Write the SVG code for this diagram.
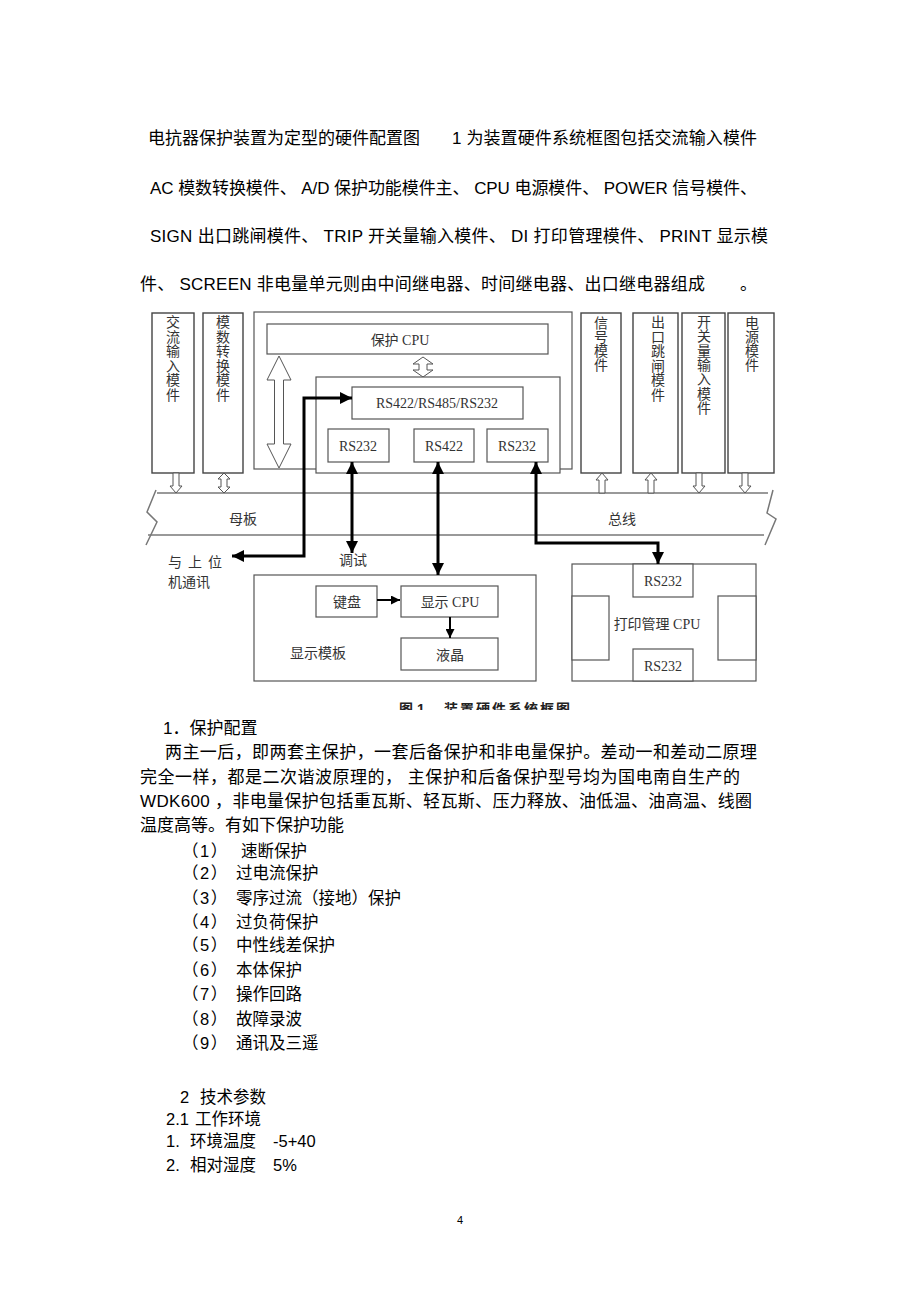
<svg xmlns="http://www.w3.org/2000/svg" xmlns:xlink="http://www.w3.org/1999/xlink" width="920" height="1303" viewBox="0 0 920 1303">
<style>
.box{fill:#fff;stroke:#555;stroke-width:1.2}
.mod{fill:#fff;stroke:#444;stroke-width:1.4}
.t{font-family:"Liberation Serif","Noto Sans CJK SC",serif;font-size:14px;fill:#333}
.tc{text-anchor:middle}
.p{font-family:"Liberation Sans","Noto Sans CJK SC",sans-serif;font-size:17px;fill:#000}
.li{font-size:16.5px}
.num{letter-spacing:1.5px}
.thick{stroke:#000;stroke-width:3;fill:none;marker-start:url(#ah);marker-end:url(#ah)}
.thin{stroke:#000;stroke-width:2;fill:none;marker-end:url(#ah2)}
.hollow{fill:#fff;stroke:#555;stroke-width:1}
.bus{stroke:#777;stroke-width:1.5;fill:none}
</style>
<defs>
<marker id="ah" viewBox="0 0 12 12" refX="12" refY="6" markerWidth="12" markerHeight="12" markerUnits="userSpaceOnUse" orient="auto-start-reverse"><path d="M0,0 L12,6 L0,12 z" fill="#000"/></marker>
<marker id="ah2" viewBox="0 0 10 10" refX="10" refY="5" markerWidth="9" markerHeight="9" markerUnits="userSpaceOnUse" orient="auto"><path d="M0,0 L10,5 L0,10 z" fill="#000"/></marker>
<path id="dn" d="M-3,0 H3 V13 H6 L0,20 L-6,13 H-3 Z"/>
<path id="up" d="M0,0 L6,7 H3 V20 H-3 V7 H-6 Z"/>
<path id="ud" d="M0,0 L6,6 H3 V14 H6 L0,20 L-6,14 H-3 V6 H-6 Z"/>
<clipPath id="capclip"><rect x="380" y="690" width="220" height="20"/></clipPath>
</defs>

<g id="intro" class="p">
<text x="148" y="143.5">电抗器保护装置为定型的硬件配置图</text>
<text x="452" y="143.5" textLength="305" lengthAdjust="spacing">1 为装置硬件系统框图包括交流输入模件</text>
<text x="150" y="193.5" textLength="607" lengthAdjust="spacing">AC 模数转换模件、 A/D 保护功能模件主、 CPU 电源模件、 POWER 信号模件、</text>
<text x="150" y="241.5" textLength="618" lengthAdjust="spacing">SIGN 出口跳闸模件、 TRIP 开关量输入模件、 DI 打印管理模件、 PRINT 显示模</text>
<text x="140" y="289.5" textLength="565" lengthAdjust="spacing">件、 SCREEN 非电量单元则由中间继电器、时间继电器、出口继电器组成</text>
<text x="740" y="289.5">。</text>
</g>

<g id="bus">
<line class="bus" x1="157" y1="493" x2="768" y2="493"/>
<line class="bus" x1="148" y1="535" x2="764" y2="535"/>
<polyline class="bus" points="156,490 147,512 157,522 146,545"/>
<polyline class="bus" points="773,490 767,513 776,519 765,545"/>
<text class="t tc" x="243" y="524">母板</text>
<text class="t tc" x="622" y="524">总线</text>
</g>

<g id="mod-ac">
<rect class="mod" x="152" y="313" width="42" height="160"/>
<text class="t tc"><tspan x="173" y="327">交</tspan><tspan x="173" y="341.6">流</tspan><tspan x="173" y="356.2">输</tspan><tspan x="173" y="370.8">入</tspan><tspan x="173" y="385.4">模</tspan><tspan x="173" y="400">件</tspan></text>
<use xlink:href="#dn" href="#dn" x="176" y="473" class="hollow"/>
</g>
<g id="mod-ad">
<rect class="mod" x="203" y="313" width="40" height="160"/>
<text class="t tc"><tspan x="223" y="327">模</tspan><tspan x="223" y="341.6">数</tspan><tspan x="223" y="356.2">转</tspan><tspan x="223" y="370.8">换</tspan><tspan x="223" y="385.4">模</tspan><tspan x="223" y="400">件</tspan></text>
<use xlink:href="#ud" href="#ud" x="224" y="473" class="hollow"/>
</g>

<g id="cpu-module">
<rect class="box" x="254" y="312" width="318" height="157"/>
<rect class="box" x="267" y="324" width="281" height="30"/>
<text class="t tc" x="400" y="345">保护 CPU</text>
<path class="hollow" d="M279,356 L291,380 H283.5 V444 H291 L279,468 L267,444 H274.5 V380 H267 Z"/>
<path class="hollow" d="M423,357 L433,364 H427 V370 H433 L423,377 L413,370 H419 V364 H413 Z"/>
<rect class="box" x="316" y="377" width="244" height="96"/>
<rect class="box" x="352" y="387" width="171" height="32"/>
<text class="t tc" x="437" y="408">RS422/RS485/RS232</text>
<rect class="box" x="328" y="429" width="61" height="33"/>
<text class="t tc" x="358" y="451">RS232</text>
<rect class="box" x="414" y="429" width="60" height="33"/>
<text class="t tc" x="444" y="451">RS422</text>
<rect class="box" x="487" y="429" width="61" height="33"/>
<text class="t tc" x="517" y="451">RS232</text>
</g>

<g id="mod-sign">
<rect class="mod" x="581" y="313" width="40" height="160"/>
<text class="t tc"><tspan x="601" y="328">信</tspan><tspan x="601" y="342">号</tspan><tspan x="601" y="356">模</tspan><tspan x="601" y="370">件</tspan></text>
<use xlink:href="#up" href="#up" x="602" y="473" class="hollow"/>
</g>
<g id="mod-trip">
<rect class="mod" x="633" y="313" width="45" height="160"/>
<text class="t tc"><tspan x="658" y="327">出</tspan><tspan x="658" y="341.6">口</tspan><tspan x="658" y="356.2">跳</tspan><tspan x="658" y="370.8">闸</tspan><tspan x="658" y="385.4">模</tspan><tspan x="658" y="400">件</tspan></text>
<use xlink:href="#up" href="#up" x="651" y="473" class="hollow"/>
</g>
<g id="mod-di">
<rect class="mod" x="682" y="313" width="43" height="160"/>
<text class="t tc"><tspan x="704" y="327">开</tspan><tspan x="704" y="341.3">关</tspan><tspan x="704" y="355.6">量</tspan><tspan x="704" y="369.9">输</tspan><tspan x="704" y="384.2">入</tspan><tspan x="704" y="398.5">模</tspan><tspan x="704" y="412.8">件</tspan></text>
<use xlink:href="#dn" href="#dn" x="699" y="473" class="hollow"/>
</g>
<g id="mod-power">
<rect class="mod" x="728" y="313" width="46" height="160"/>
<text class="t tc"><tspan x="752" y="328">电</tspan><tspan x="752" y="342">源</tspan><tspan x="752" y="356">模</tspan><tspan x="752" y="370">件</tspan></text>
<use xlink:href="#dn" href="#dn" x="745" y="473" class="hollow"/>
</g>

<g id="host-label">
<text class="t" y="567"><tspan x="168">与</tspan><tspan x="188">上</tspan><tspan x="208">位</tspan></text>
<text class="t" x="168" y="587">机通讯</text>
<text class="t tc" x="353" y="565">调试</text>
</g>

<g id="display">
<rect class="box" x="254" y="575" width="282" height="106"/>
<rect class="box" x="316" y="586" width="61" height="31"/>
<text class="t tc" x="347" y="607">键盘</text>
<rect class="box" x="401" y="586" width="97" height="31"/>
<text class="t tc" x="450" y="607">显示 CPU</text>
<rect class="box" x="401" y="638" width="97" height="32"/>
<text class="t tc" x="450" y="660">液晶</text>
<text class="t tc" x="318" y="658">显示模板</text>
</g>

<g id="print">
<rect class="box" x="572" y="564" width="184" height="117"/>
<rect class="box" x="633" y="564" width="60" height="33"/>
<text class="t tc" x="663" y="586">RS232</text>
<rect class="box" x="633" y="649" width="60" height="32"/>
<text class="t tc" x="663" y="671">RS232</text>
<rect class="box" x="572" y="596" width="37" height="64"/>
<rect class="box" x="718" y="596" width="38" height="64"/>
<text class="t tc" x="657" y="629">打印管理 CPU</text>
</g>

<g id="connectors">
<path class="thick" d="M232,556 H304 V398 H352"/>
<path class="thick" d="M352,462 V553"/>
<path class="thick" d="M438,462 V575"/>
<path class="thick" d="M536,462 V543 H658 V564"/>
<path class="thin" d="M377,600 H400"/>
<path class="thin" d="M450,617 V638"/>
</g>

<g id="caption" clip-path="url(#capclip)" font-family="Liberation Sans,Noto Sans CJK SC,sans-serif" font-size="14" font-weight="bold" fill="#222">
<text x="399" y="714">图 1</text>
<text x="444" y="714" textLength="126" lengthAdjust="spacing">装置硬件系统框图</text>
</g>

<g id="body" class="p">
<text x="163" y="734">1．保护配置</text>
<text x="165" y="758" textLength="592" lengthAdjust="spacing">两主一后，即两套主保护，一套后备保护和非电量保护。差动一和差动二原理</text>
<text x="140" y="783" textLength="600" lengthAdjust="spacing">完全一样，都是二次谐波原理的，  主保护和后备保护型号均为国电南自生产的</text>
<text x="140" y="807" textLength="612" lengthAdjust="spacing">WDK600 ，非电量保护包括重瓦斯、轻瓦斯、压力释放、油低温、油高温、线圈</text>
<text x="140" y="831">温度高等。有如下保护功能</text>
</g>

<g id="list" class="p li">
<text class="num" x="182" y="857">（1）</text><text x="241" y="857">速断保护</text>
<text class="num" x="182" y="879">（2）</text><text x="236" y="879">过电流保护</text>
<text class="num" x="182" y="904">（3）</text><text x="236" y="904">零序过流（接地）保护</text>
<text class="num" x="182" y="928">（4）</text><text x="236" y="928">过负荷保护</text>
<text class="num" x="182" y="951">（5）</text><text x="236" y="951">中性线差保护</text>
<text class="num" x="182" y="976">（6）</text><text x="236" y="976">本体保护</text>
<text class="num" x="182" y="1000">（7）</text><text x="236" y="1000">操作回路</text>
<text class="num" x="182" y="1025">（8）</text><text x="236" y="1025">故障录波</text>
<text class="num" x="182" y="1049">（9）</text><text x="236" y="1049">通讯及三遥</text>
</g>

<g id="params" class="p li">
<text x="180" y="1103">2</text><text x="200" y="1103">技术参数</text>
<text x="166" y="1124.5">2.1</text><text x="195" y="1124.5">工作环境</text>
<text x="166" y="1146.5">1.</text><text x="190" y="1146.5">环境温度</text><text x="273" y="1146.5">-5+40</text>
<text x="166" y="1171">2.</text><text x="190" y="1171">相对湿度</text><text x="273" y="1171">5%</text>
</g>

<text id="page" x="460" y="1224" text-anchor="middle" font-family="Liberation Sans,sans-serif" font-size="11" fill="#000">4</text>
</svg>
